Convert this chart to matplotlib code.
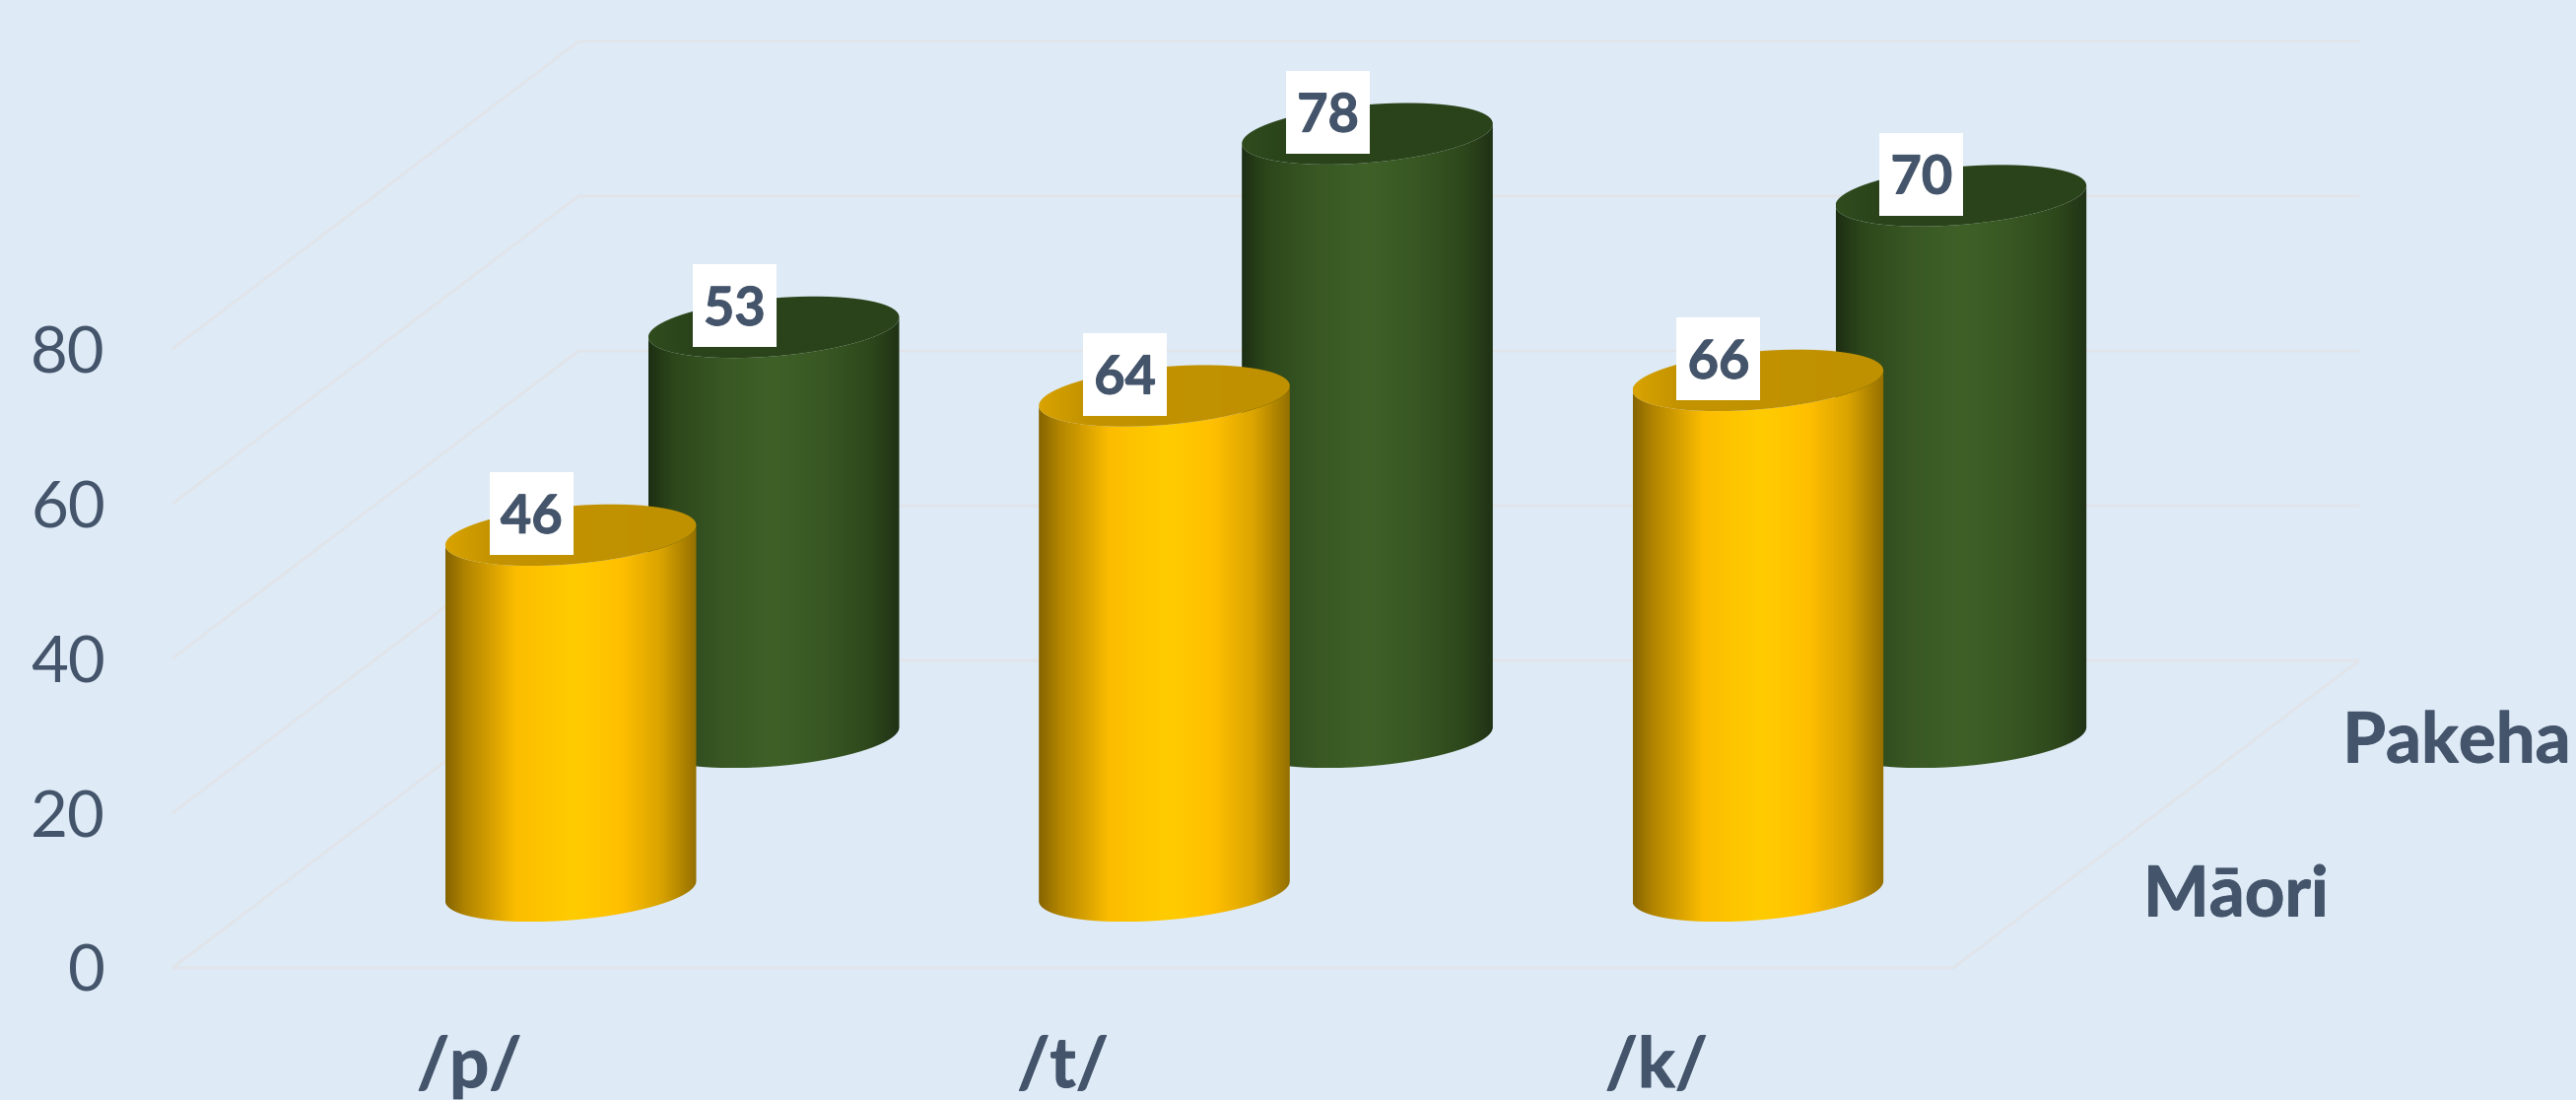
import numpy as np
import matplotlib
matplotlib.use("Agg")
import matplotlib.pyplot as plt
import matplotlib.patheffects as pe
from matplotlib.colors import LinearSegmentedColormap
from matplotlib.patches import PathPatch, Rectangle
from matplotlib.path import Path

categories = ["/p/", "/t/", "/k/"]
series_names = ["Māori", "Pakeha"]
maori = [46, 64, 66]
pakeha = [53, 78, 70]
y_ticks = [0, 20, 40, 60, 80]

BG = "#deeaf6"
TEXT = "#44546a"
GRID = "#e1e4e9"

plt.rcParams["font.family"] = ["Lato", "DejaVu Sans"]

W, H = 2614, 1116
fig = plt.figure(figsize=(W / 100, H / 100), dpi=100, facecolor=BG)

# axes covers the front plane of the 3d box, depth is a shift in data units
left, right, bottom, top = 175, 1982, 982, 354
ax = fig.add_axes([left / W, 1 - bottom / H, (right - left) / W, (bottom - top) / H])
ax.patch.set_visible(False)
for s in ax.spines.values():
    s.set_visible(False)

PX_X = 3 / (right - left)
PX_Y = 80 / (bottom - top)
DX = 412 * PX_X
DY = 312 * PX_Y

# Lato bold is a bit lighter than the reference font
heavy = [pe.withStroke(linewidth=0.7, foreground=TEXT)]

gold_side = LinearSegmentedColormap.from_list("gold", [
    (0, "#866400"), (0.08, "#b28500"), (0.18, "#d6a000"), (0.28, "#fcbd00"),
    (0.52, "#ffcc00"), (0.7, "#ffbf00"), (0.86, "#d9a300"), (1, "#957000")])
green_side = LinearSegmentedColormap.from_list("green", [
    (0, "#1d2f13"), (0.1, "#2d471b"), (0.3, "#395824"), (0.5, "#3f6128"),
    (0.7, "#385723"), (0.88, "#2e481c"), (1, "#203316")])
gold_top = LinearSegmentedColormap.from_list("goldtop", [
    (0, "#d9a300"), (0.18, "#c39300"), (1, "#bf9000")])
green_top = LinearSegmentedColormap.from_list("greentop", [
    (0, "#304c1e"), (0.18, "#2a431a"), (1, "#2a431a")])

# grid on floor, back wall and left wall
grid_kw = dict(color=GRID, lw=2, zorder=1, clip_on=False, solid_capstyle="butt")
ax.plot([0, 3, 3 + DX], [0, 0, DY], **grid_kw)
for v in y_ticks:
    ax.plot([0, DX, 3 + DX], [v, v + DY, v + DY], **grid_kw)

RX = 0.2
RD = 0.1
S0 = np.arctan2(RD * DX, RX)


def ring(cx, cy, t):
    return np.column_stack([cx + RX * np.cos(t) + RD * DX * np.sin(t),
                            cy + RD * DY * np.sin(t)])


def gradient_fill(verts, cmap, z):
    x0, x1 = verts[:, 0].min(), verts[:, 0].max()
    y0, y1 = verts[:, 1].min(), verts[:, 1].max()
    im = ax.imshow(np.linspace(0, 1, 512).reshape(1, -1), cmap=cmap, vmin=0, vmax=1,
                   extent=(x0, x1, y0, y1), aspect="auto", origin="lower",
                   interpolation="bilinear", zorder=z)
    im.set_clip_path(PathPatch(Path(verts), transform=ax.transData))
    im.set_clip_box(fig.bbox)


def cylinder(i, depth, value, side, cap, z):
    cx = i + 0.5 + depth * DX
    cy = depth * DY
    front = np.linspace(S0 + np.pi, S0 + 2 * np.pi, 120)
    body = np.vstack([ring(cx, cy, front), ring(cx, cy + value, front[::-1])])
    gradient_fill(body, side, z)
    gradient_fill(ring(cx, cy + value, np.linspace(0, 2 * np.pi, 240)), cap, z + 0.1)

    # value label sits up and to the left of the cap centre
    lx = cx - 40 * PX_X
    ly = cy + value + 22 * PX_Y
    ax.add_patch(Rectangle((lx - 42.5 * PX_X, ly - 42 * PX_Y), 85 * PX_X, 84 * PX_Y,
                           fc="white", ec="none", zorder=10, clip_on=False))
    ax.text(lx, ly, str(value), ha="center", va="center_baseline", fontsize=39,
            fontweight="bold", color=TEXT, zorder=11, path_effects=heavy)


for i in range(len(categories)):
    cylinder(i, 0.75, pakeha[i], green_side, green_top, 3 + i)
    cylinder(i, 0.25, maori[i], gold_side, gold_top, 6 + i)

ax.set_xlim(0, 3)
ax.set_ylim(0, 80)
ax.set_xticks([i + 0.5 for i in range(len(categories))], categories)
ax.set_yticks(y_ticks, [str(v) for v in y_ticks])
ax.tick_params(axis="both", length=0, labelcolor=TEXT)
ax.tick_params(axis="y", labelsize=47, pad=49)
ax.tick_params(axis="x", labelsize=51, pad=49)
for lab in ax.get_xticklabels():
    lab.set_fontweight("bold")
    lab.set_path_effects(heavy)

# series names along the depth axis
for name, depth, off in zip(series_names, [0.25, 0.75], [184, 202]):
    ax.annotate(name, xy=(3 + depth * DX, depth * DY), xytext=(off, 1),
                textcoords="offset pixels", ha="center", va="center_baseline",
                fontsize=51, fontweight="bold", color=TEXT, annotation_clip=False,
                path_effects=heavy)

fig.savefig("out.png", dpi=100, facecolor=BG)
